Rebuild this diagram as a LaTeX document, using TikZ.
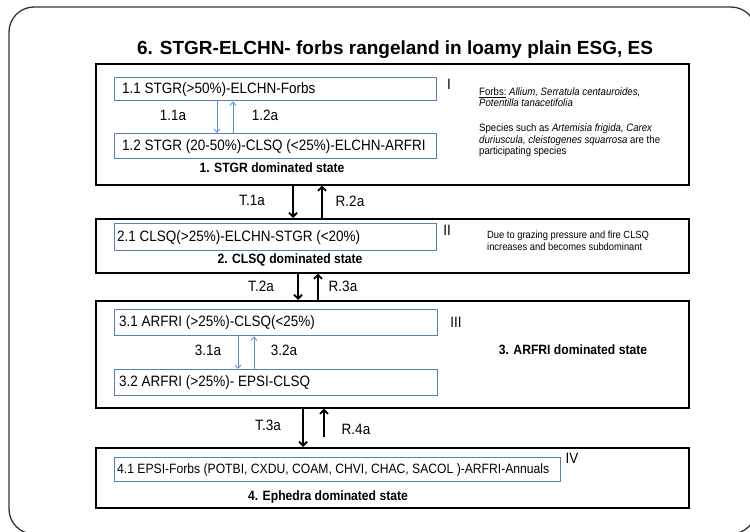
\documentclass[tikz,border=0pt]{standalone}
\usepackage{fontspec}
\setmainfont{Liberation Sans}
\newfontfamily\nar[FakeStretch=0.9]{Liberation Sans}
\usetikzlibrary{arrows.meta}
\definecolor{boxblue}{HTML}{4F81BD}
\definecolor{arrblue}{HTML}{5B8FD6}
\definecolor{framegray}{HTML}{333333}
\tikzset{
  statebox/.style={draw=black, line width=1.6pt, minimum width=593pt, anchor=north west, inner sep=0pt},
  ibox/.style={draw=boxblue, line width=1.4pt, anchor=north west, inner sep=0pt},
  itext/.style={anchor=west, inner sep=0pt, font=\fontsize{15}{17}\nar},
  lbl/.style={inner sep=0pt, font=\fontsize{15}{17}\nar},
  slbl/.style={inner sep=0pt, font=\fontsize{13.5}{15}\nar\bfseries},
  side/.style={anchor=north west, inner sep=0pt, align=left},
  barr/.style={draw=arrblue, line width=0.8pt, -{Straight Barb[length=3.5pt,width=6pt]}},
  karr/.style={draw=black, line width=1.8pt, -{Straight Barb[length=4pt,width=8pt]}}
}
\begin{document}
\begin{tikzpicture}[x=1pt,y=-1pt]
\useasboundingbox (0,0) rectangle (750,532);
\fill[white] (0,0) rectangle (750,532);
\begin{scope}
\clip (0,0) rectangle (750,532);
\draw[framegray, line width=1.3pt, rounded corners=25pt] (9,7) rectangle (756,534);
\end{scope}

\node[font=\fontsize{19}{22}\selectfont\bfseries] (title) at (395,50) {6. STGR-ELCHN- forbs rangeland in loamy plain ESG, ES};

% state boxes
\node[statebox, minimum height=121pt] (s1) at (95,63) {};
\node[statebox, minimum height=54pt] (s2) at (95,218) {};
\node[statebox, minimum height=107pt] (s3) at (95,300) {};
\node[statebox, minimum height=60pt] (s4) at (95,447) {};

% inner boxes
\node[ibox, minimum width=322pt, minimum height=23pt] (b11) at (114,77) {};
\node[ibox, minimum width=322pt, minimum height=25pt] (b12) at (114,133) {};
\node[ibox, minimum width=322pt, minimum height=27pt] (b21) at (114,223) {};
\node[ibox, minimum width=323pt, minimum height=26pt] (b31) at (114,309) {};
\node[ibox, minimum width=323pt, minimum height=26pt] (b32) at (114,369) {};
\node[ibox, minimum width=446pt, minimum height=24pt] (b41) at (114,457) {};

\node[itext] (t11) at ([xshift=8pt]b11.west) {1.1 STGR(>50\%)-ELCHN-Forbs};
\node[itext] (t12) at ([xshift=8pt]b12.west) {1.2 STGR (20-50\%)-CLSQ (<25\%)-ELCHN-ARFRI};
\node[itext] (t21) at ([xshift=3pt]b21.west) {2.1 CLSQ(>25\%)-ELCHN-STGR (<20\%)};
\node[itext] (t31) at ([xshift=5pt]b31.west) {3.1 ARFRI (>25\%)-CLSQ(<25\%)};
\node[itext] (t32) at ([xshift=5pt]b32.west) {3.2 ARFRI (>25\%)- EPSI-CLSQ};
\node[itext, font=\fontsize{13.5}{15}\nar] (t41) at ([xshift=3pt]b41.west) {4.1 EPSI-Forbs (POTBI, CXDU, COAM, CHVI, CHAC, SACOL )-ARFRI-Annuals};

% roman numerals
\node[lbl] (n1) at (449,84) {I};
\node[lbl] (n2) at (447,230) {II};
\node[lbl] (n3) at (456,322) {III};
\node[lbl] (n4) at (572,458) {IV};

% state labels
\node[slbl] (l1) at (272,168) {1. STGR dominated state};
\node[slbl] (l2) at (290,260) {2. CLSQ dominated state};
\node[slbl] (l3) at (573,350) {3. ARFRI dominated state};
\node[slbl] (l4) at (328,497) {4. Ephedra dominated state};

% side notes
\node[side, font=\fontsize{10.7}{11}\nar] (sn1) at (479,88)
  {\underline{Forbs:} \textit{Allium, Serratula centauroides,}\\ \textit{Potentilla tanacetifolia}};
\node[side, font=\fontsize{10.7}{11.5}\nar] (sn2) at (479,124)
  {Species such as \textit{Artemisia frigida, Carex}\\ \textit{duriuscula, cleistogenes squarrosa} are the\\ participating species};
\node[side, font=\fontsize{10.4}{11.5}\nar] (sn3) at (487,231)
  {Due to grazing pressure and fire CLSQ\\ increases and becomes subdominant};

% blue arrows within states
\coordinate (ba1) at (217,0); \coordinate (ba2) at (233,0);
\draw[barr] (b11.south -| ba1) -- (b12.north -| ba1);
\draw[barr] (b12.north -| ba2) -- (b11.south -| ba2);
\coordinate (ba3) at (238,0); \coordinate (ba4) at (254,0);
\draw[barr] (b31.south -| ba3) -- (b32.north -| ba3);
\draw[barr] (b32.north -| ba4) -- (b31.south -| ba4);
\node[lbl] (a11) at (173,115) {1.1a};
\node[lbl] (a12) at (265,115) {1.2a};
\node[lbl] (a31) at (208,350) {3.1a};
\node[lbl] (a32) at (284,350) {3.2a};

% black transitions
\coordinate (k1) at (293,0); \coordinate (k2) at (322,0);
\draw[karr] (s1.south -| k1) -- (s2.north -| k1);
\draw[karr] (s2.north -| k2) -- (s1.south -| k2);
\coordinate (k3) at (298,0); \coordinate (k4) at (318,0);
\draw[karr] (s2.south -| k3) -- (s3.north -| k3);
\draw[karr] (s3.north -| k4) -- (s2.south -| k4);
\coordinate (k5) at (303,0); \coordinate (r4s) at (324,437);
\draw[karr] (s3.south -| k5) -- (s4.north -| k5);
\draw[karr] (r4s) -- (s3.south -| r4s);
\node[lbl] (ta1) at (252,200) {T.1a};
\node[lbl] (ra2) at (350,201) {R.2a};
\node[lbl] (ta2) at (261,286) {T.2a};
\node[lbl] (ra3) at (343,286) {R.3a};
\node[lbl] (ta3) at (268,425) {T.3a};
\node[lbl] (ra4) at (356,429) {R.4a};
\end{tikzpicture}
\end{document}
